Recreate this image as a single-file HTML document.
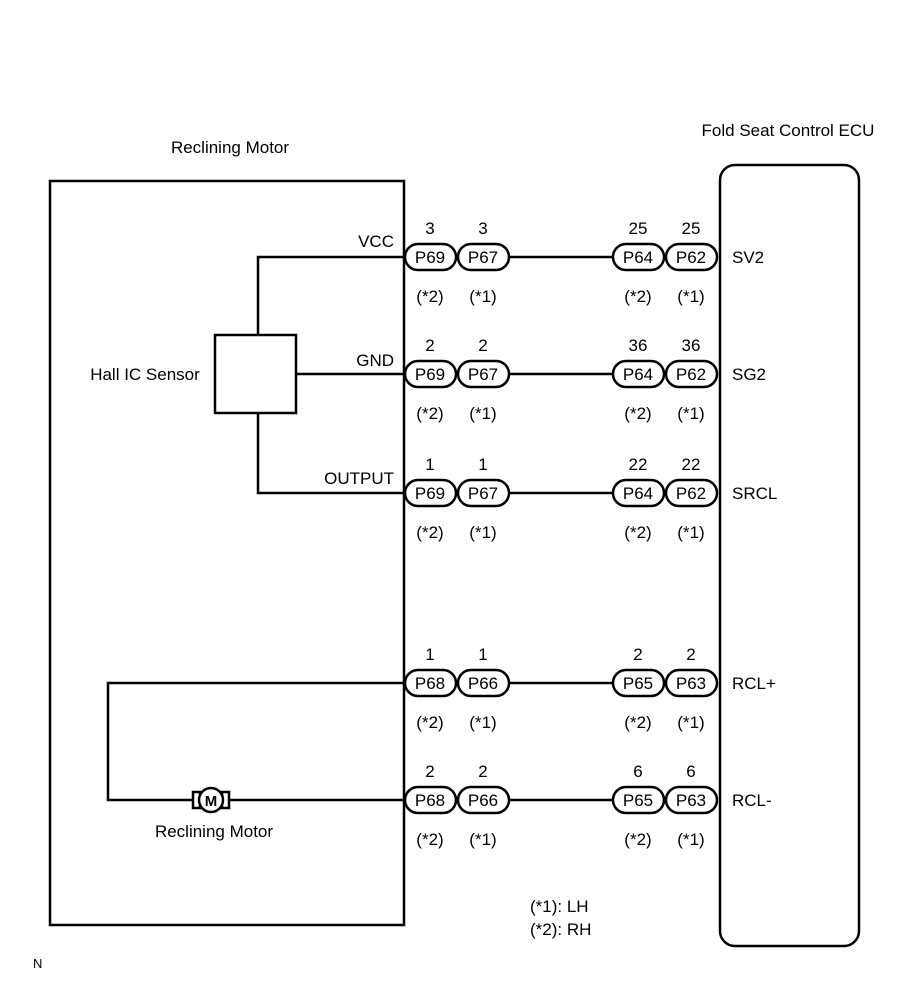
<!DOCTYPE html>
<html><head><style>body{margin:0;background:#fff}</style></head><body>
<svg width="907" height="995" xmlns="http://www.w3.org/2000/svg" font-family="Liberation Sans, Arial, sans-serif" font-size="17">
<rect width="907" height="995" fill="#fff"/>
<g stroke="#000" stroke-width="2.5" fill="none">
<rect x="50" y="181" width="354" height="744"/>
<rect x="720" y="165" width="139" height="781" rx="15"/>
<rect x="215" y="335" width="81" height="78"/>
<path d="M258 335V257H404M296 374H404M258 413V493H404M404 683H108V800H193M229 800H404"/>
<path d="M509 257H612M509 374H612M509 493H612M509 683H612M509 800H612"/>
</g>
<g stroke="#000" stroke-width="2.5" fill="#fff">
<rect x="193" y="792" width="7" height="16"/><rect x="222" y="792" width="7" height="16"/>
<circle cx="211" cy="800" r="12"/>
</g>
<text x="211" y="806" text-anchor="middle" font-weight="bold" font-size="15">M</text>
<text x="230" y="153" text-anchor="middle">Reclining Motor</text>
<text x="788" y="136" text-anchor="middle">Fold Seat Control ECU</text>
<text x="145" y="380" text-anchor="middle">Hall IC Sensor</text>
<text x="214" y="837" text-anchor="middle">Reclining Motor</text>
<g text-anchor="end"><text x="394" y="247">VCC</text><text x="394" y="366">GND</text><text x="394" y="484">OUTPUT</text></g>
<g><text x="732" y="263">SV2</text><text x="732" y="380">SG2</text><text x="732" y="499">SRCL</text><text x="732" y="689">RCL+</text><text x="732" y="806">RCL-</text></g>
<text x="530" y="912">(*1): LH</text><text x="530" y="935">(*2): RH</text>
<text x="33" y="968" font-size="13">N</text>
<g id="rows"></g>
</svg>
<script>
const rows=[[257,"3","P69","P67","25","P64","P62"],[374,"2","P69","P67","36","P64","P62"],[493,"1","P69","P67","22","P64","P62"],[683,"1","P68","P66","2","P65","P63"],[800,"2","P68","P66","6","P65","P63"]];
let s="";
for(const r of rows){const y=r[0];
 const cs=[[404,r[1],r[2],"(*2)"],[457,r[1],r[3],"(*1)"],[612,r[4],r[5],"(*2)"],[665,r[4],r[6],"(*1)"]];
 for(const c of cs){const x=c[0],cx=x+26;
  s+=`<rect x="${x+1}" y="${y-13}" width="51" height="26" rx="13" fill="#fff" stroke="#000" stroke-width="2.5"/>`;
  s+=`<text x="${cx}" y="${y+6}" text-anchor="middle">${c[2]}</text>`;
  s+=`<text x="${cx}" y="${y-23}" text-anchor="middle">${c[1]}</text>`;
  s+=`<text x="${cx}" y="${y+45}" text-anchor="middle">${c[3]}</text>`;}
}
document.getElementById("rows").innerHTML=s;
</script>
</body></html>
